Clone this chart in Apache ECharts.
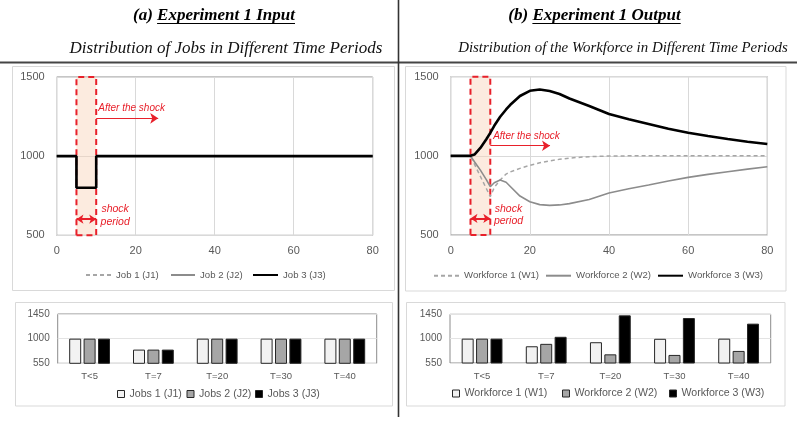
<!DOCTYPE html>
<html><head><meta charset="utf-8">
<script src="https://cdn.jsdelivr.net/npm/echarts@6/dist/echarts.min.js"></script>
<style>html,body{margin:0;padding:0;background:#fff}#c{width:800px;height:421px}</style>
</head><body><div id="c"></div>
<script>
// ---------- data ----------
const jobTime = [0, 5, 5, 10, 10, 80];
const job1 = [1000, 1000, 800, 800, 1000, 1000];
const job2 = [1000, 1000, 800, 800, 1000, 1000];
const job3 = [1000, 1000, 800, 800, 1000, 1000];

const wfTime = [0, 5, 6, 7.5, 9, 10, 11, 12.5, 14, 15, 17.5, 20, 22.5, 25, 27.5, 30, 35, 40, 45, 50, 55, 60, 65, 70, 75, 80];
const wf1 = [1000, 1000, 948, 870, 794, 742, 800, 848, 885, 898, 921, 940, 956, 968, 978, 986, 995, 999, 1000, 1000, 1000, 1000, 1000, 1000, 1000, 1000];
const wf2 = [1000, 1000, 963, 910, 850, 805, 830, 847, 833, 808, 746, 710, 692, 687, 690, 698, 724, 765, 792, 816, 841, 864, 883, 900, 916, 931];
const wf3 = [1000, 1000, 1008, 1050, 1105, 1145, 1190, 1247, 1293, 1321, 1378, 1411, 1419, 1410, 1391, 1362, 1315, 1264, 1231, 1201, 1171, 1146, 1125, 1106, 1089, 1075];

const barCats = ['T<5', 'T=7', 'T=20', 'T=30', 'T=40'];
const jobsBar1 = [1000, 800, 1000, 1000, 1000];
const jobsBar2 = [1000, 800, 1000, 1000, 1000];
const jobsBar3 = [1000, 800, 1000, 1000, 1000];
const wfBar1 = [1000, 859, 934, 997, 1000];
const wfBar2 = [1000, 904, 710, 699, 773];
const wfBar3 = [1000, 1034, 1431, 1381, 1277];

const lineYTicks = [500, 1000, 1500];
const barYTicks = [550, 1000, 1450];

const jobLineNames = ['Job 1 (J1)', 'Job 2 (J2)', 'Job 3 (J3)'];
const wfLineNames = ['Workforce 1 (W1)', 'Workforce 2 (W2)', 'Workforce 3 (W3)'];
const jobBarNames = ['Jobs 1 (J1)', 'Jobs 2 (J2)', 'Jobs 3 (J3)'];
const wfBarNames = ['Workforce 1 (W1)', 'Workforce 2 (W2)', 'Workforce 3 (W3)'];

const shockPeriod = [5, 10];

const titleA = ['(a) ', 'Experiment 1 Input'];
const titleB = ['(b) ', 'Experiment 1 Output'];
const subA = 'Distribution of Jobs in Different Time Periods';
const subB = 'Distribution of the Workforce in Different Time Periods';

// ---------- helpers ----------
const SANS = '"Liberation Sans", Arial, sans-serif';
const SERIF = '"Liberation Serif", "Times New Roman", serif';
const RED = '#e8202a';
const GRAY_TXT = '#595959';
const zip = (xs, ys) => xs.map((x, i) => [x, ys[i]]);
const BAR_PREFIX = 'bar|';
const plain = v => String(v);

const lineStyles = [
  { color: '#a6a6a6', width: 1.5, type: [4, 3] },
  { color: '#8c8c8c', width: 1.6, type: 'solid' },
  { color: '#000000', width: 2.6, type: 'solid' }
];
const barFills = ['#f2f2f2', '#a6a6a6', '#000000'];

function lineSeries(name, gi, data, k, extra) {
  return Object.assign({
    type: 'line', name, xAxisIndex: gi, yAxisIndex: gi, data,
    symbol: 'none', showSymbol: false, silent: true,
    lineStyle: lineStyles[k], itemStyle: { color: lineStyles[k].color },
    z: 3 + k
  }, extra || {});
}
function barSeries(name, gi, data, k) {
  return {
    type: 'bar', name, xAxisIndex: gi, yAxisIndex: gi, data, silent: true,
    barWidth: 12, barGap: '20%',
    itemStyle: { color: barFills[k], borderColor: '#262626', borderWidth: 1 }
  };
}
function shockMarkers(afterCoord, arrowEnd, arrowY, textCoord) {
  return {
    markArea: {
      silent: true,
      itemStyle: { color: 'rgba(248,210,185,0.45)', borderColor: RED, borderWidth: 2, borderType: [6, 4] },
      data: [[{ xAxis: shockPeriod[0] }, { xAxis: shockPeriod[1] }]]
    },
    markLine: {
      silent: true, animation: false,
      symbol: ['none', 'arrow'], symbolSize: 8,
      label: { show: false },
      lineStyle: { color: RED, width: 1, type: 'solid' },
      data: [[{ coord: [shockPeriod[1], arrowY] }, { coord: [arrowEnd, arrowY] }]]
    },
    markPoint: {
      silent: true, symbol: 'rect', symbolSize: 1,
      itemStyle: { color: 'rgba(0,0,0,0)' },
      data: [
        { coord: afterCoord, label: { show: true, position: 'right', distance: 0, formatter: 'After the shock', color: RED, fontStyle: 'italic', fontSize: 10, fontFamily: SANS } },
        { coord: textCoord, label: { show: true, position: 'inside', formatter: 'shock\nperiod', align: 'center', lineHeight: 12.5, color: RED, fontStyle: 'italic', fontSize: 10.5, fontFamily: SANS } }
      ]
    }
  };
}
function periodArrow(y) {
  return {
    markLine: {
      silent: true, animation: false,
      symbol: ['arrow', 'arrow'], symbolSize: 7,
      label: { show: false },
      lineStyle: { color: RED, width: 2, type: 'solid' },
      data: [[{ coord: [shockPeriod[0], y] }, { coord: [shockPeriod[1], y] }]]
    }
  };
}

function lineX(gi) {
  return {
    type: 'value', gridIndex: gi, min: 0, max: 80, interval: 20,
    axisLine: { show: false }, axisTick: { show: false },
    splitLine: { show: true, lineStyle: { color: '#d9d9d9', width: 1 } },
    axisLabel: { color: GRAY_TXT, fontSize: 11, margin: 10, fontFamily: SANS, formatter: plain }
  };
}
function lineY(gi) {
  return {
    type: 'value', gridIndex: gi, min: lineYTicks[0], max: lineYTicks[2], interval: lineYTicks[1] - lineYTicks[0],
    axisLine: { show: false }, axisTick: { show: false },
    splitLine: { show: true, lineStyle: { color: '#d9d9d9', width: 1 } },
    axisLabel: { color: GRAY_TXT, fontSize: 11, margin: 12, fontFamily: SANS, formatter: plain }
  };
}
function barX(gi) {
  return {
    type: 'category', gridIndex: gi, data: barCats,
    axisLine: { show: false }, axisTick: { show: false },
    axisLabel: { color: GRAY_TXT, fontSize: 9.5, margin: 8, fontFamily: SANS }
  };
}
function barY(gi) {
  return {
    type: 'value', gridIndex: gi, min: barYTicks[0], max: barYTicks[2],
    axisLine: { show: false },
    axisTick: { show: false, customValues: barYTicks },
    splitLine: { show: true, lineStyle: { color: '#e3e3e3', width: 1 } },
    axisLabel: { customValues: barYTicks, color: GRAY_TXT, fontSize: 10, margin: 8, fontFamily: SANS, formatter: plain }
  };
}

function legendItem(name, left, cy, opts) {
  return Object.assign({
    data: [name], left, top: cy - 6, padding: 0, selectedMode: false,
    itemWidth: 25, itemHeight: 12,
    formatter: n => n.replace(BAR_PREFIX, ''),
    itemStyle: { color: 'rgba(0,0,0,0)', borderWidth: 0 },
    textStyle: { color: GRAY_TXT, fontSize: 9.6, lineHeight: 12, fontFamily: SANS }
  }, opts || {});
}
const barLegendOpts = {
  icon: 'rect', itemWidth: 7, itemHeight: 7,
  itemStyle: { borderWidth: 1, borderColor: '#262626' },
  textStyle: { color: GRAY_TXT, fontSize: 10.6, lineHeight: 12, fontFamily: SANS }
};

function textW(str, font) {
  const c = document.createElement('canvas').getContext('2d');
  c.font = font; return c.measureText(str).width;
}
function header(parts, cx, cy, font, underlineY) {
  const full = parts.join('');
  const w = textW(full, font);
  const pw = textW(parts[0], font);
  const x0 = cx - w / 2;
  return [
    { type: 'text', x: x0, y: cy, style: { text: full, font, fill: '#000', align: 'left', verticalAlign: 'middle' } },
    { type: 'line', shape: { x1: x0 + pw, y1: underlineY, x2: x0 + w, y2: underlineY }, style: { stroke: '#000', lineWidth: 1.2 } }
  ];
}

const titleFont = 'italic bold 17px ' + SERIF;
const subFontA = 'italic 17px ' + SERIF;
const subFontB = 'italic 14.9px ' + SERIF;

const chart = echarts.init(document.getElementById('c'), null, { renderer: 'canvas' });
chart.setOption({
  animation: false,
  backgroundColor: '#ffffff',
  grid: [
    { left: 56.7, top: 77, width: 316, height: 158.3, show: true, borderColor: '#8c8c8c', borderWidth: 1 },
    { left: 450.7, top: 76.7, width: 316.6, height: 158.3, show: true, borderColor: '#8c8c8c', borderWidth: 1 },
    { left: 57.7, top: 314, width: 319, height: 49.3, show: true, borderColor: '#8c8c8c', borderWidth: 1 },
    { left: 450, top: 314.3, width: 320.7, height: 48.7, show: true, borderColor: '#8c8c8c', borderWidth: 1 }
  ],
  xAxis: [lineX(0), lineX(1), barX(2), barX(3)],
  yAxis: [lineY(0), lineY(1), barY(2), barY(3)],
  legend: [
    legendItem(jobLineNames[0], 85, 275),
    legendItem(jobLineNames[1], 170, 275, { itemWidth: 24 }),
    legendItem(jobLineNames[2], 252, 275),
    legendItem(wfLineNames[0], 433, 275.7),
    legendItem(wfLineNames[1], 545, 275.7),
    legendItem(wfLineNames[2], 657, 275.7),
    legendItem(jobBarNames[0], 117, 394, barLegendOpts),
    legendItem(jobBarNames[1], 186.5, 394, barLegendOpts),
    legendItem(jobBarNames[2], 255, 394, barLegendOpts),
    legendItem(BAR_PREFIX + wfBarNames[0], 452, 393.5, barLegendOpts),
    legendItem(BAR_PREFIX + wfBarNames[1], 562, 393.5, barLegendOpts),
    legendItem(BAR_PREFIX + wfBarNames[2], 669, 393.5, barLegendOpts)
  ],
  graphic: [
    { type: 'rect', z: -10, shape: { x: 12.5, y: 66.5, width: 382, height: 224 }, style: { fill: '#fff', stroke: '#d9d9d9', lineWidth: 1 } },
    { type: 'rect', z: -10, shape: { x: 405.5, y: 66.5, width: 380.5, height: 224.5 }, style: { fill: '#fff', stroke: '#d9d9d9', lineWidth: 1 } },
    { type: 'rect', z: -10, shape: { x: 15.5, y: 302.5, width: 377, height: 103.5 }, style: { fill: '#fff', stroke: '#d9d9d9', lineWidth: 1 } },
    { type: 'rect', z: -10, shape: { x: 406.5, y: 302.5, width: 378.5, height: 103.5 }, style: { fill: '#fff', stroke: '#d9d9d9', lineWidth: 1 } },
    { type: 'line', z: 20, shape: { x1: 0, y1: 62.5, x2: 797, y2: 62.5 }, style: { stroke: '#454545', lineWidth: 2 } },
    { type: 'line', z: 20, shape: { x1: 398.5, y1: 0, x2: 398.5, y2: 417 }, style: { stroke: '#333333', lineWidth: 1.6 } },
    ...header(titleA, 214, 15.8, titleFont, 23.5),
    ...header(titleB, 594.5, 15.8, titleFont, 23.5),
    { type: 'text', x: 226, y: 48.2, style: { text: subA, font: subFontA, fill: '#111', align: 'center', verticalAlign: 'middle' } },
    { type: 'text', x: 623, y: 48.2, style: { text: subB, font: subFontB, fill: '#111', align: 'center', verticalAlign: 'middle' } }
  ],
  series: [
    lineSeries(jobLineNames[0], 0, zip(jobTime, job1), 0, shockMarkers([10.4, 1304], 25.7, 1239, [14.8, 624])),
    lineSeries(jobLineNames[1], 0, zip(jobTime, job2), 1, periodArrow(602)),
    lineSeries(jobLineNames[2], 0, zip(jobTime, job3), 2),
    lineSeries(wfLineNames[0], 1, zip(wfTime, wf1), 0, shockMarkers([10.6, 1127], 25.1, 1064, [14.6, 626])),
    lineSeries(wfLineNames[1], 1, zip(wfTime, wf2), 1, periodArrow(605)),
    lineSeries(wfLineNames[2], 1, zip(wfTime, wf3), 2),
    barSeries(jobBarNames[0], 2, jobsBar1, 0),
    barSeries(jobBarNames[1], 2, jobsBar2, 1),
    barSeries(jobBarNames[2], 2, jobsBar3, 2),
    barSeries(BAR_PREFIX + wfBarNames[0], 3, wfBar1, 0),
    barSeries(BAR_PREFIX + wfBarNames[1], 3, wfBar2, 1),
    barSeries(BAR_PREFIX + wfBarNames[2], 3, wfBar3, 2)
  ]
});
</script>
</body></html>
